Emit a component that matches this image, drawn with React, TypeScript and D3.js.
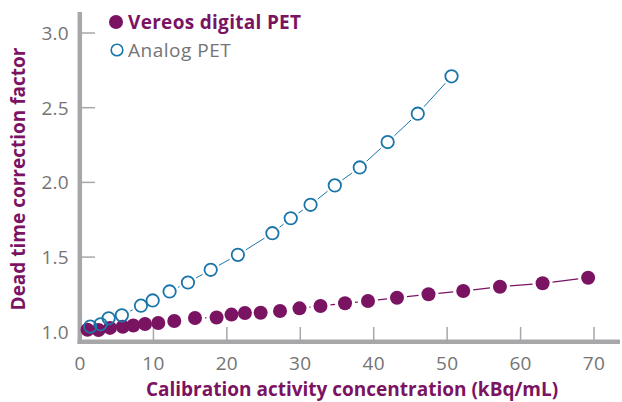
import React from "react";
import * as d3 from "d3";

const vereosX = [1.02, 2.52, 4.09, 5.82, 7.26, 8.85, 10.66, 12.84, 15.66, 18.6, 20.63, 22.46, 24.6, 27.24, 29.89, 32.75, 36.09, 39.22, 43.17, 47.46, 52.19, 57.19, 63.0, 69.2];
const vereosY = [1.014, 1.012, 1.026, 1.034, 1.042, 1.052, 1.059, 1.072, 1.092, 1.096, 1.115, 1.126, 1.128, 1.139, 1.157, 1.173, 1.191, 1.206, 1.228, 1.251, 1.273, 1.302, 1.325, 1.362];
const analogX = [1.4, 2.8, 3.9, 5.7, 8.3, 9.9, 12.2, 14.7, 17.8, 21.5, 26.2, 28.7, 31.4, 34.7, 38.1, 41.9, 46.0, 50.6];
const analogY = [1.035, 1.05, 1.09, 1.11, 1.175, 1.21, 1.27, 1.33, 1.415, 1.515, 1.66, 1.76, 1.85, 1.98, 2.1, 2.27, 2.46, 2.71];
const xTicks = [0, 10, 20, 30, 40, 50, 60, 70];
const yTicks = [1.0, 1.5, 2.0, 2.5, 3.0];
const seriesNames = ["Vereos digital PET", "Analog PET"];
const xTitle = "Calibration activity concentration (kBq/mL)";
const yTitle = "Dead time correction factor";

const W = 622;
const H = 402;
const PURPLE = "#7b1363";
const BLUE = "#1a75a9";
const GRAY = "#a7a7a9";
const TEXTGRAY = "#747474";
const FONT = "'Open Sans', 'DejaVu Sans', sans-serif";

const x = d3.scaleLinear().domain([0, 73.54]).range([80, 620]);
const y = d3.scaleLinear().domain([1, 3]).range([331.8, 33]);

function segments(xs: number[], ys: number[], r: number, gap: number) {
  const out: { x1: number; y1: number; x2: number; y2: number }[] = [];
  for (let i = 0; i < xs.length - 1; i++) {
    const ax = x(xs[i]), ay = y(ys[i]);
    const bx = x(xs[i + 1]), by = y(ys[i + 1]);
    const dx = bx - ax, dy = by - ay;
    const len = Math.hypot(dx, dy);
    const cut = r + gap;
    if (len <= 2 * cut + 1) continue;
    const ux = dx / len, uy = dy / len;
    out.push({ x1: ax + ux * cut, y1: ay + uy * cut, x2: bx - ux * cut, y2: by - uy * cut });
  }
  return out;
}

export default function App() {
  const vSegs = segments(vereosX, vereosY, 7, 3);
  const aSegs = segments(analogX, analogY, 6.3, 3);
  return (
    <svg width={W} height={H} style={{ position: "absolute", left: 0, top: 0, background: "#fff" }}>
      <rect x={0} y={0} width={W} height={H} fill="#fff" />
      {yTicks.map((t) => (
        <g key={"y" + t}>
          <line x1={82} x2={95} y1={y(t)} y2={y(t)} stroke={GRAY} strokeWidth={1.5} />
          <text x={69} y={y(t)} dy="0.36em" textAnchor="end" fontFamily={FONT} fontWeight={400} fontSize={19} letterSpacing={0.3} fill={TEXTGRAY}>
            {t.toFixed(1)}
          </text>
        </g>
      ))}
      {xTicks.map((t) => (
        <g key={"x" + t}>
          {t > 0 && <line x1={x(t)} x2={x(t)} y1={340} y2={327} stroke={GRAY} strokeWidth={1.5} />}
          <text x={x(t)} y={370} textAnchor="middle" fontFamily={FONT} fontWeight={400} fontSize={19} letterSpacing={0.3} fill={TEXTGRAY}>
            {t}
          </text>
        </g>
      ))}
      <line x1={79.8} x2={79.8} y1={12} y2={344} stroke={GRAY} strokeWidth={4.5} />
      <line x1={77.5} x2={620} y1={341.7} y2={341.7} stroke={GRAY} strokeWidth={4.5} />
      {aSegs.map((s, i) => (
        <line key={"as" + i} {...s} stroke={BLUE} strokeWidth={1} />
      ))}
      {vSegs.map((s, i) => (
        <line key={"vs" + i} {...s} stroke={PURPLE} strokeWidth={1.2} />
      ))}
      {vereosX.map((v, i) => (
        <circle key={"vc" + i} cx={x(v)} cy={y(vereosY[i])} r={7} fill={PURPLE} />
      ))}
      {analogX.map((v, i) => (
        <circle key={"ac" + i} cx={x(v)} cy={y(analogY[i])} r={6.2} fill="#fff" fillOpacity={0} stroke={BLUE} strokeWidth={1.8} />
      ))}
      <circle cx={116} cy={22} r={7} fill={PURPLE} />
      <text x={128} y={28.5} fontFamily={FONT} fontWeight={700} fontSize={19} letterSpacing={0.3} fill={PURPLE}>
        {seriesNames[0]}
      </text>
      <circle cx={117} cy={50} r={5.8} fill="#fff" stroke={BLUE} strokeWidth={1.6} />
      <text x={128} y={56.5} fontFamily={FONT} fontWeight={400} fontSize={19} letterSpacing={0.5} fill={TEXTGRAY}>
        {seriesNames[1]}
      </text>
      <text x={352} y={396} textAnchor="middle" fontFamily={FONT} fontWeight={700} fontSize={19} fill={PURPLE}>
        {xTitle}
      </text>
      <text transform="translate(25,179) rotate(-90)" textAnchor="middle" fontFamily={FONT} fontWeight={700} fontSize={19} fill={PURPLE}>
        {yTitle}
      </text>
    </svg>
  );
}
